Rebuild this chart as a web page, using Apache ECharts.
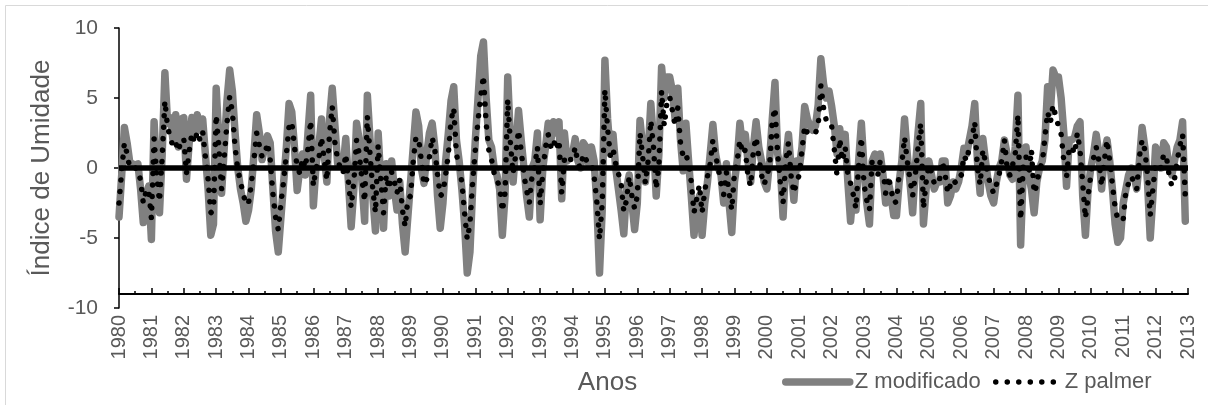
<!DOCTYPE html>
<html>
<head>
<meta charset="utf-8">
<script src="https://cdn.jsdelivr.net/npm/echarts@6/dist/echarts.min.js"></script>
<style>
  html, body { margin: 0; padding: 0; background: #ffffff; }
  #chart { width: 1208px; height: 405px; }
</style>
</head>
<body>
<div id="chart"></div>
<script>
// Monthly moisture index series, January 1980 to December 2012 (one row per year)
const startYear = 1980;
const endYear = 2013;

const zModificado = [
  -3.5, -0.5, 2.9, 1.8, 0.4, 0.3, 0.2, 0.3, -1.5, -3.9, -2.0, -1.3,   // 1980
  -5.1, 3.3, -0.5, -3.2, 1.0, 6.8, 3.2, 3.6, 2.0, 3.8, 1.5, 3.5,      // 1981
  3.6, -0.8, 1.8, 3.6, 2.5, 3.8, 2.7, 3.5, 1.0, -1.5, -4.8, -4.0,     // 1982
  5.7, 2.0, -1.8, 1.5, 4.8, 7.0, 5.5, 2.5, 0.0, -1.5, -2.5, -3.8,     // 1983
  -3.0, -1.5, 1.0, 3.8, 2.5, 0.6, 1.5, 2.3, 1.8, -1.5, -4.5, -6.0,    // 1984
  -3.5, -1.0, 1.5, 4.6, 4.0, 1.5, -1.6, 0.0, 1.0, -0.5, 2.5, 5.2,     // 1985
  -2.7, 0.2, 1.5, 3.5, 1.0, -1.0, 3.5, 5.7, 3.0, 0.3, 0.5, 0.0,       // 1986
  2.1, -1.0, -4.2, -1.5, 3.2, 2.0, -1.0, -3.8, 5.2, 2.0, -2.0, -4.5,  // 1987
  2.5, -1.0, -4.3, 0.3, -2.0, 0.5, -1.5, -3.0, -1.0, -4.0, -6.0, -3.5,// 1988
  -1.0, 1.5, 4.0, 3.0, 0.0, -1.1, 1.0, 2.5, 3.2, 1.5, -2.0, -4.3,     // 1989
  -2.5, 0.5, 2.5, 4.8, 5.8, 2.0, 0.5, -1.5, -4.0, -7.5, -6.0, -1.5,   // 1990
  2.0, 5.0, 8.0, 9.0, 5.0, 2.0, 1.5, 0.0, -0.5, -1.5, -4.8, -2.0,     // 1991
  6.5, 2.0, -1.0, 1.5, 4.1, 2.0, 0.0, -2.0, -3.5, 0.0, 0.5, 2.5,      // 1992
  -3.7, 0.0, 1.5, 3.2, 2.0, 3.3, 2.5, 3.3, -2.2, 2.5, 0.5, 1.0,       // 1993
  1.0, 2.1, 0.5, 0.0, 1.8, 1.5, 0.3, 1.5, 0.5, -2.5, -7.5, -3.0,      // 1994
  7.7, 3.5, 1.0, 2.4, 0.0, -1.5, -3.0, -4.7, -1.5, -0.5, -2.5, -4.4,  // 1995
  -2.5, 3.4, 1.5, -1.0, 1.0, 4.6, 2.0, -2.0, 1.0, 7.2, 5.0, 6.5,      // 1996
  6.5, 5.5, 3.5, 5.7, 2.0, -0.2, 3.2, 0.5, -2.0, -4.8, -3.0, -2.0,    // 1997
  -4.8, -2.5, -1.0, 1.0, 3.1, 1.0, 0.0, -0.5, -2.5, 0.3, -2.5, -4.6,  // 1998
  -1.0, 0.5, 3.2, 1.5, 2.4, 0.5, -1.0, 1.5, 3.3, 1.5, 0.5, -1.0,      // 1999
  -1.5, 0.5, 3.5, 6.1, 1.0, 0.0, -3.5, 0.5, 2.4, 0.0, -2.3, 0.5,      // 2000
  0.0, 1.5, 4.4, 3.5, 3.0, 2.7, 3.0, 4.5, 7.8, 6.0, 5.0, 5.5,         // 2001
  4.4, 3.0, 1.0, 2.8, 1.0, 2.4, -1.0, -3.8, -1.5, -3.0, 0.5, 3.2,     // 2002
  0.0, -2.5, -4.0, 0.5, 1.0, 0.0, 1.0, -0.5, -2.5, -1.0, -2.0, -3.4,  // 2003
  -3.4, -1.0, 0.5, 3.5, 1.0, -1.0, -3.2, 0.0, 2.5, 4.6, -4.0, -1.5,   // 2004
  0.5, -0.5, -1.5, -1.0, -1.0, 0.5, 0.5, -2.5, -2.0, -1.0, -1.5, -1.0,// 2005
  0.0, 1.4, 1.0, 2.0, 3.0, 4.6, 0.5, -1.8, 2.1, 0.5, -1.0, -2.0,      // 2006
  -2.5, -1.0, 0.0, 0.5, 2.0, 1.0, -0.5, -0.8, 1.5, 5.2, -5.5, 0.0,    // 2007
  1.5, -0.5, -1.5, -3.2, -1.0, 0.0, 0.5, 2.0, 5.8, 4.0, 7.0, 6.5,     // 2008
  6.5, 5.0, 2.5, -1.3, 2.0, 2.0, 2.2, 3.0, 3.3, -2.0, -4.8, -1.5,     // 2009
  0.0, 1.0, 2.4, 1.0, -1.5, 1.0, 2.0, 0.5, -1.5, -4.0, -5.3, -5.0,    // 2010
  -2.5, -1.5, -0.5, 0.0, -0.5, -1.5, 0.5, 2.9, 1.5, -1.0, -5.0, -2.0, // 2011
  1.5, 1.0, 0.0, 1.8, 1.5, 0.0, -0.5, 0.5, 1.5, 2.0, 3.3, -3.8        // 2012
];

const zPalmer = [
  -2.5, -0.2, 1.8, 1.0, 0.0, 0.0, 0.0, -0.1, -0.9, -2.5, -1.7, -1.5,  // 1980
  -3.6, 2.1, -0.6, -2.4, 0.8, 4.8, 2.9, 2.2, 1.5, 1.8, 1.2, 2.0,      // 1981
  2.1, -0.4, 1.2, 2.5, 1.8, 2.6, 2.0, 2.6, 0.8, -0.8, -3.2, -3.0,     // 1982
  3.8, 1.5, -1.5, 0.8, 3.2, 5.1, 4.0, 1.5, -0.1, -1.0, -1.8, -2.6,    // 1983
  -2.5, -1.2, 0.6, 2.5, 1.6, 0.8, 0.9, 1.8, 0.6, -1.8, -3.5, -4.4,    // 1984
  -2.5, -0.9, 1.0, 3.0, 3.3, 1.5, 0.1, -0.4, 0.7, 0.0, 1.4, 3.4,      // 1985
  -1.3, 0.0, 0.6, 2.2, 0.6, -0.9, 2.5, 4.4, 1.8, 0.6, 0.0, -0.4,      // 1986
  1.0, -1.0, -2.8, -1.0, 2.0, 1.0, -0.8, -2.4, 3.7, 1.0, -1.5, -3.2,  // 1987
  1.6, -0.8, -3.2, -0.5, -1.5, -0.3, -1.0, -1.8, -0.8, -3.0, -4.2, -2.2, // 1988
  -2.0, 0.5, 2.2, 2.1, 0.5, -1.2, -0.8, 0.8, 2.2, 1.3, -0.5, -2.0,    // 1989
  -1.8, -0.5, 1.0, 3.4, 4.3, 1.0, 0.0, -1.0, -3.2, -5.1, -4.0, -1.0,  // 1990
  1.3, 3.4, 5.1, 6.6, 3.2, 1.3, 0.6, -0.4, -0.9, -1.3, -3.1, -1.8,    // 1991
  4.9, 1.8, -0.4, 1.0, 2.7, 1.2, -0.5, -1.6, -2.5, -0.6, 0.1, 1.5,    // 1992
  -2.6, -0.3, 1.5, 2.4, 1.5, 2.0, 1.3, 2.0, -1.8, 0.6, 0.3, 0.6,      // 1993
  0.6, 1.5, 0.3, 0.0, 1.0, 0.6, 0.3, 0.3, -0.6, -2.4, -5.1, -2.5,     // 1994
  5.6, 2.8, 0.9, 1.4, 0.3, -0.4, -1.1, -3.1, -2.3, -0.6, -2.0, -2.9,  // 1995
  -2.0, 2.5, 0.8, -1.1, 0.5, 3.4, 1.5, -1.5, 0.2, 5.5, 3.0, 4.7,      // 1996
  5.1, 4.1, 3.0, 4.3, 1.8, 0.8, 1.0, 0.3, -1.0, -3.2, -2.2, -1.2,     // 1997
  -3.2, -1.6, -0.6, 0.3, 2.0, 0.9, 0.0, -1.1, -1.9, -0.3, -1.8, -3.0, // 1998
  -0.3, 0.5, 2.0, 1.0, 1.3, -0.6, -1.3, 1.3, 2.2, 0.8, -0.5, -1.2,    // 1999
  -0.5, 0.1, 3.4, 4.3, 1.0, -1.1, -2.5, 0.5, 1.8, -0.6, -1.8, -1.0,   // 2000
  -0.5, 1.3, 3.0, 2.5, 2.4, 2.4, 2.5, 3.0, 5.9, 4.3, 3.4, 3.4,        // 2001
  3.0, 1.3, -0.6, 2.1, 0.5, 1.5, -0.5, -1.1, -1.9, -2.9, 0.3, 2.2,    // 2002
  -1.2, -2.3, -3.0, 0.6, 0.0, -0.6, 0.5, 0.0, -1.8, -0.6, -1.5, -2.5, // 2003
  -2.4, -0.5, 0.3, 2.2, 0.5, -0.8, -2.0, -0.5, 1.5, 3.2, -2.9, -1.0,  // 2004
  0.2, -0.3, -1.1, -1.2, -0.8, 0.5, -0.4, -1.8, -1.2, -0.8, -1.1, -0.7, // 2005
  -0.5, 0.9, 0.5, 1.5, 2.1, 3.3, 0.0, -1.2, 1.3, 0.4, -0.6, -1.3,     // 2006
  -1.8, -1.2, -0.5, 0.5, 2.0, 0.0, -0.5, 0.2, 1.0, 3.8, -3.7, 0.3,    // 2007
  0.8, -0.5, 1.3, -1.8, -1.2, 0.0, 0.3, 2.2, 4.0, 3.2, 4.5, 3.7,      // 2008
  3.0, 2.4, 0.5, -0.7, 1.5, 1.5, 1.0, 2.5, 1.3, -1.1, -3.6, -2.0,     // 2009
  -0.5, 0.7, 1.5, 0.5, -1.3, 0.5, 2.0, 0.5, -1.2, -2.8, -3.7, -3.7,   // 2010
  -3.7, -1.6, -1.1, -0.6, -1.0, -1.5, 0.8, 2.0, 1.3, -0.5, -3.4, -1.5,// 2011
  0.3, 0.3, 0.0, 1.0, 0.8, -0.5, -1.3, -0.8, 0.5, 1.6, 2.4, -2.0      // 2012
];

const seriesNames = ['Z modificado', 'Z palmer'];
const axisTitles = { x: 'Anos', y: 'Índice de Umidade' };

// month index -> fractional year on the value axis
const toPoints = vals => vals.map((v, i) => [startYear + i / 12, v]);

const FONT = "'Liberation Sans', Arial, sans-serif";
const TEXT = '#595959';

const chart = echarts.init(document.getElementById('chart'), null, { renderer: 'canvas' });

chart.setOption({
  animation: false,
  backgroundColor: '#ffffff',
  textStyle: { fontFamily: FONT },
  graphic: [{
    type: 'rect',
    silent: true,
    shape: { x: 5.5, y: 5.5, width: 1400, height: 600 },
    style: { fill: 'none', stroke: '#d9d9d9', lineWidth: 1 }
  }],
  grid: { left: 119, right: 20, top: 28, bottom: 97, containLabel: false, outerBoundsMode: 'none' },
  legend: [{
    data: [seriesNames[0]],
    left: 782, top: 371, padding: 0,
    itemWidth: 64, itemHeight: 24,
    itemStyle: { opacity: 0 },
    lineStyle: { width: 7.5, cap: 'round', color: '#808080' },
    textStyle: { fontSize: 22, color: TEXT, fontFamily: FONT }
  }, {
    data: [seriesNames[1]],
    left: 993, top: 371, padding: 0,
    itemWidth: 64, itemHeight: 24,
    itemStyle: { opacity: 0 },
    lineStyle: { width: 5.5, type: [0.01, 11.5], cap: 'round', color: '#000000' },
    textStyle: { fontSize: 22, color: TEXT, fontFamily: FONT }
  }],
  xAxis: {
    type: 'value',
    min: startYear, max: endYear, interval: 1,
    offset: -14,
    name: axisTitles.x,
    nameLocation: 'middle',
    nameGap: 76,
    nameTextStyle: { fontSize: 26, color: TEXT, fontFamily: FONT, padding: [0, 92, 0, 0] },
    axisLine: { show: true, onZero: false, lineStyle: { color: '#000000', width: 2 } },
    axisTick: { show: true, inside: true, length: 6, lineStyle: { color: '#000000', width: 1.5 } },
    minorTick: { show: true, splitNumber: 2, length: 3, lineStyle: { color: '#000000', width: 1.5 } },
    axisLabel: { rotate: 90, margin: 21, fontSize: 20, color: TEXT, fontFamily: FONT, formatter: v => String(v) },
    splitLine: { show: false },
    minorSplitLine: { show: false }
  },
  yAxis: {
    type: 'value',
    min: -10, max: 10, interval: 5,
    name: axisTitles.y,
    nameLocation: 'middle',
    nameGap: 64,
    nameTextStyle: { fontSize: 26, color: TEXT, fontFamily: FONT },
    axisLine: { show: true, lineStyle: { color: '#000000', width: 1.5 } },
    axisTick: { show: true, length: 5, lineStyle: { color: '#000000', width: 1.5 } },
    axisLabel: { margin: 21, fontSize: 21, color: TEXT, fontFamily: FONT },
    splitLine: { show: false }
  },
  series: [{
    name: seriesNames[0],
    type: 'line',
    data: toPoints(zModificado),
    symbol: 'none',
    z: 2,
    itemStyle: { color: '#808080' },
    lineStyle: { color: '#808080', width: 7.5, join: 'round', cap: 'round' }
  }, {
    name: seriesNames[1],
    type: 'line',
    data: toPoints(zPalmer),
    symbol: 'none',
    z: 3,
    itemStyle: { color: '#000000' },
    lineStyle: { color: '#000000', width: 5.5, type: [0.01, 11.5], cap: 'round', join: 'round' },
    markLine: {
      silent: true,
      symbol: ['none', 'none'],
      label: { show: false },
      lineStyle: { color: '#000000', width: 5.5, type: 'solid', cap: 'butt' },
      data: [{ yAxis: 0 }]
    }
  }]
});
</script>
</body>
</html>
